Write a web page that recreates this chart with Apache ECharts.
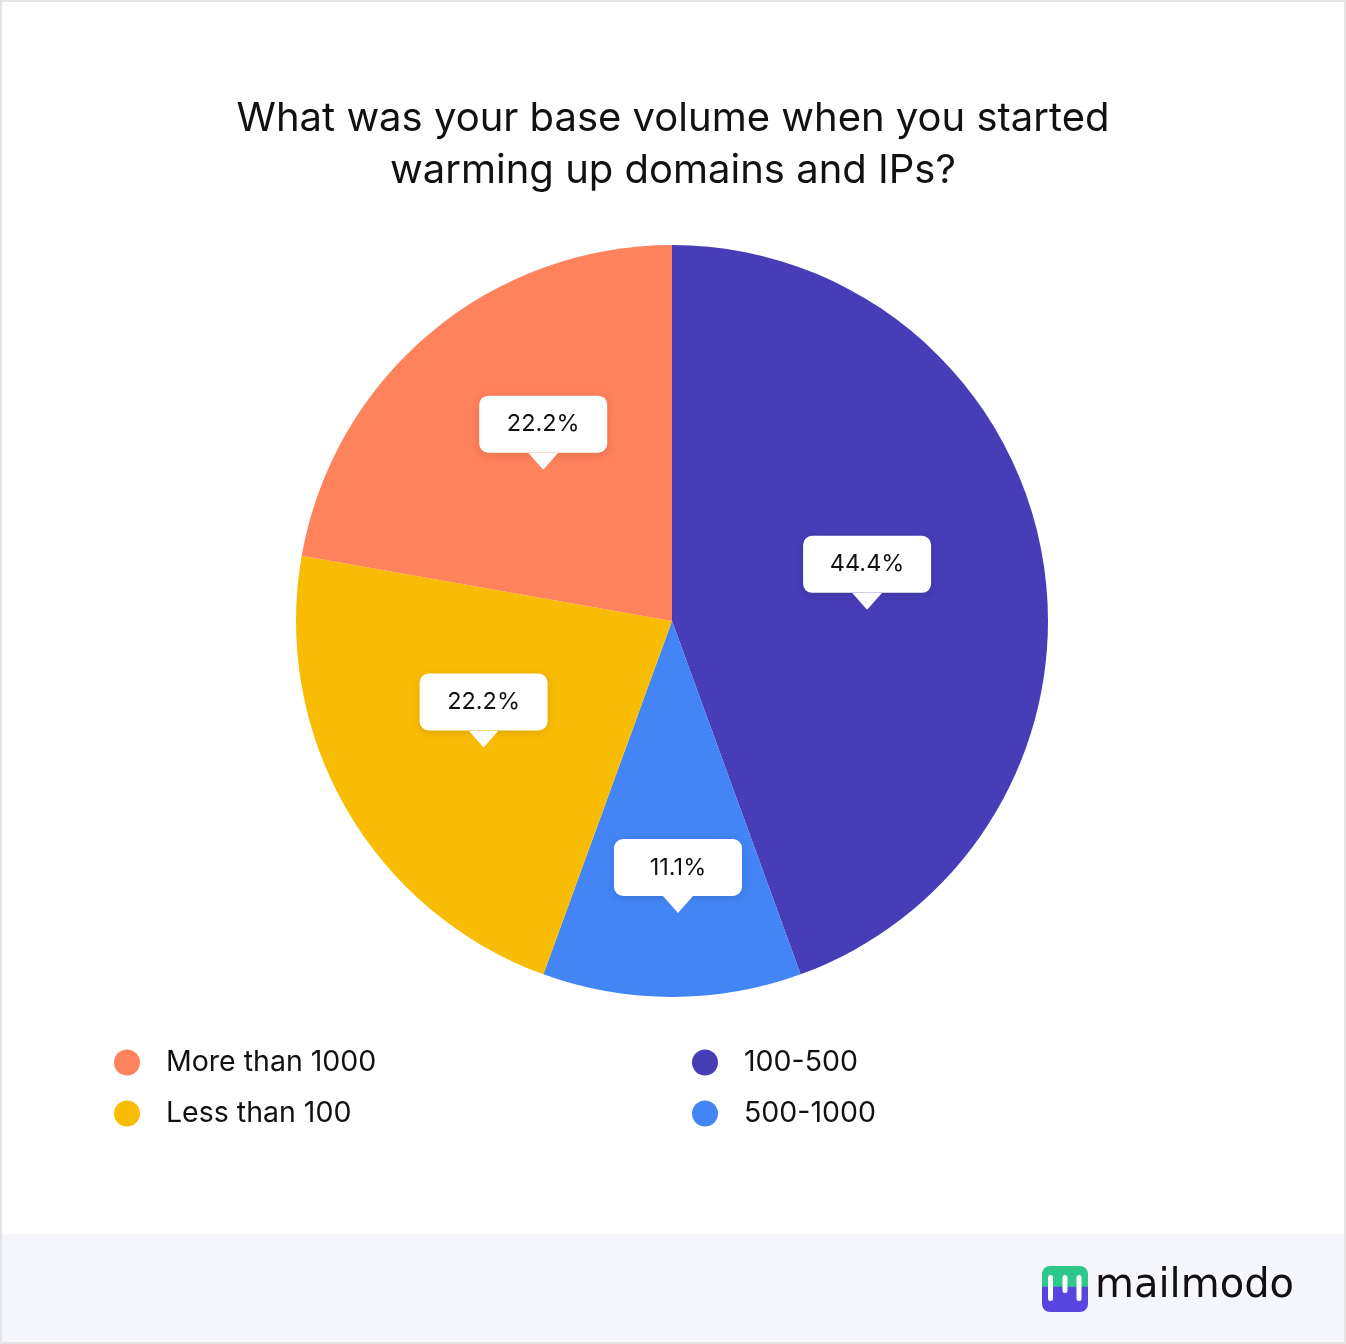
<!DOCTYPE html>
<html>
<head>
<meta charset="utf-8">
<script src="https://cdn.jsdelivr.net/npm/echarts@6/dist/echarts.min.js"></script>
<style>
html,body{margin:0;padding:0;background:#fff;}
#c{width:1346px;height:1344px;}
</style>
</head>
<body>
<div id="c"></div>
<script>
const categories = ['100-500', '500-1000', 'Less than 100', 'More than 1000'];
const shares = [44.4, 11.1, 22.2, 22.2];
const colors = ['#473DB7', '#4385F5', '#F9BC05', '#FE825C'];
const legendLeft = ['More than 1000', 'Less than 100'];
const legendRight = ['100-500', '500-1000'];
const titleText = 'What was your base volume when you started\nwarming up domains and IPs?';

const labelOffsets = [[7, -15], [6, 64], [-23, -6], [-6, -42]];

const arrowSvg = "<svg xmlns='http://www.w3.org/2000/svg' width='30' height='17'><polygon points='0,0 30,0 15,17' fill='#ffffff'/></svg>";
const arrowUrl = 'data:image/svg+xml;charset=utf-8,' + encodeURIComponent(arrowSvg);

const chart = echarts.init(document.getElementById('c'), null, {renderer: 'canvas'});

const font = 'Inter, "Noto Sans", sans-serif';

const option = {
  backgroundColor: '#ffffff',
  animation: false,
  title: {
    text: titleText,
    left: 'center',
    top: 88,
    textStyle: {
      fontFamily: font,
      fontSize: 40,
      fontWeight: 400,
      color: '#111111',
      lineHeight: 52
    }
  },
  legend: [
    {
      data: legendLeft,
      orient: 'vertical',
      left: 109,
      top: 1043,
      icon: 'circle',
      itemWidth: 26,
      itemHeight: 26,
      itemGap: 22,
      selectedMode: false,
      textStyle: {fontFamily: font, fontSize: 28.5, color: '#111111', padding: [0, 0, 0, 21]}
    },
    {
      data: legendRight,
      orient: 'vertical',
      left: 687,
      top: 1043,
      icon: 'circle',
      itemWidth: 26,
      itemHeight: 26,
      itemGap: 22,
      selectedMode: false,
      textStyle: {fontFamily: font, fontSize: 28.5, color: '#111111', padding: [0, 0, 0, 21]}
    }
  ],
  graphic: [
    {type: 'rect', z: -10, silent: true, shape: {x: 0, y: 1234, width: 1346, height: 110}, style: {fill: '#F6F7FC'}},
    {type: 'rect', z: 100, silent: true, shape: {x: 1, y: 1, width: 1344, height: 1342}, style: {fill: 'none', stroke: '#E4E4E4', lineWidth: 2}},
    {type: 'rect', z: 10, silent: true, shape: {x: 1042, y: 1266, width: 46, height: 46, r: 8},
      style: {fill: new echarts.graphic.LinearGradient(0, 0, 0, 1, [
        {offset: 0, color: '#2CC98A'}, {offset: 0.44, color: '#2CC98A'},
        {offset: 0.46, color: '#5846E0'}, {offset: 1, color: '#5846E0'}])}},
    {type: 'rect', z: 11, silent: true, shape: {x: 1048, y: 1275, width: 5, height: 26, r: 2.5}, style: {fill: '#ffffff'}},
    {type: 'rect', z: 11, silent: true, shape: {x: 1062.5, y: 1275, width: 5, height: 18, r: 2.5}, style: {fill: '#ffffff'}},
    {type: 'rect', z: 11, silent: true, shape: {x: 1076.5, y: 1275, width: 5, height: 26, r: 2.5}, style: {fill: '#ffffff'}},
    {type: 'text', z: 11, silent: true, left: 1095, top: 1267,
      style: {text: 'mailmodo', fill: '#111111', font: '400 40px "DejaVu Sans", sans-serif'}}
  ],
  series: [{
    type: 'pie',
    center: [672, 621],
    radius: [0, 376],
    startAngle: 90,
    clockwise: true,
    silent: true,
    itemStyle: {borderWidth: 0},
    labelLine: {show: false},
    data: categories.map((name, i) => ({
      name: name,
      value: shares[i],
      itemStyle: {color: colors[i]},
      label: {offset: labelOffsets[i]}
    })),
    label: {
      show: true,
      position: 'inside',
      formatter: p => '{box|' + p.value.toFixed(1) + '%}\n{arrow|}',
      rich: {
        box: {
          fontFamily: font,
          fontSize: 23.5,
          color: '#111111',
          backgroundColor: '#ffffff',
          borderRadius: 9,
          width: 128,
          height: 57,
          lineHeight: 57,
          align: 'center',
          shadowBlur: 10,
          shadowColor: 'rgba(0,0,0,0.12)',
          shadowOffsetY: 2
        },
        arrow: {
          width: 30,
          height: 17,
          lineHeight: 17,
          align: 'center',
          backgroundColor: {image: arrowUrl}
        }
      }
    }
  }]
};
chart.setOption(option);
</script>
</body>
</html>
